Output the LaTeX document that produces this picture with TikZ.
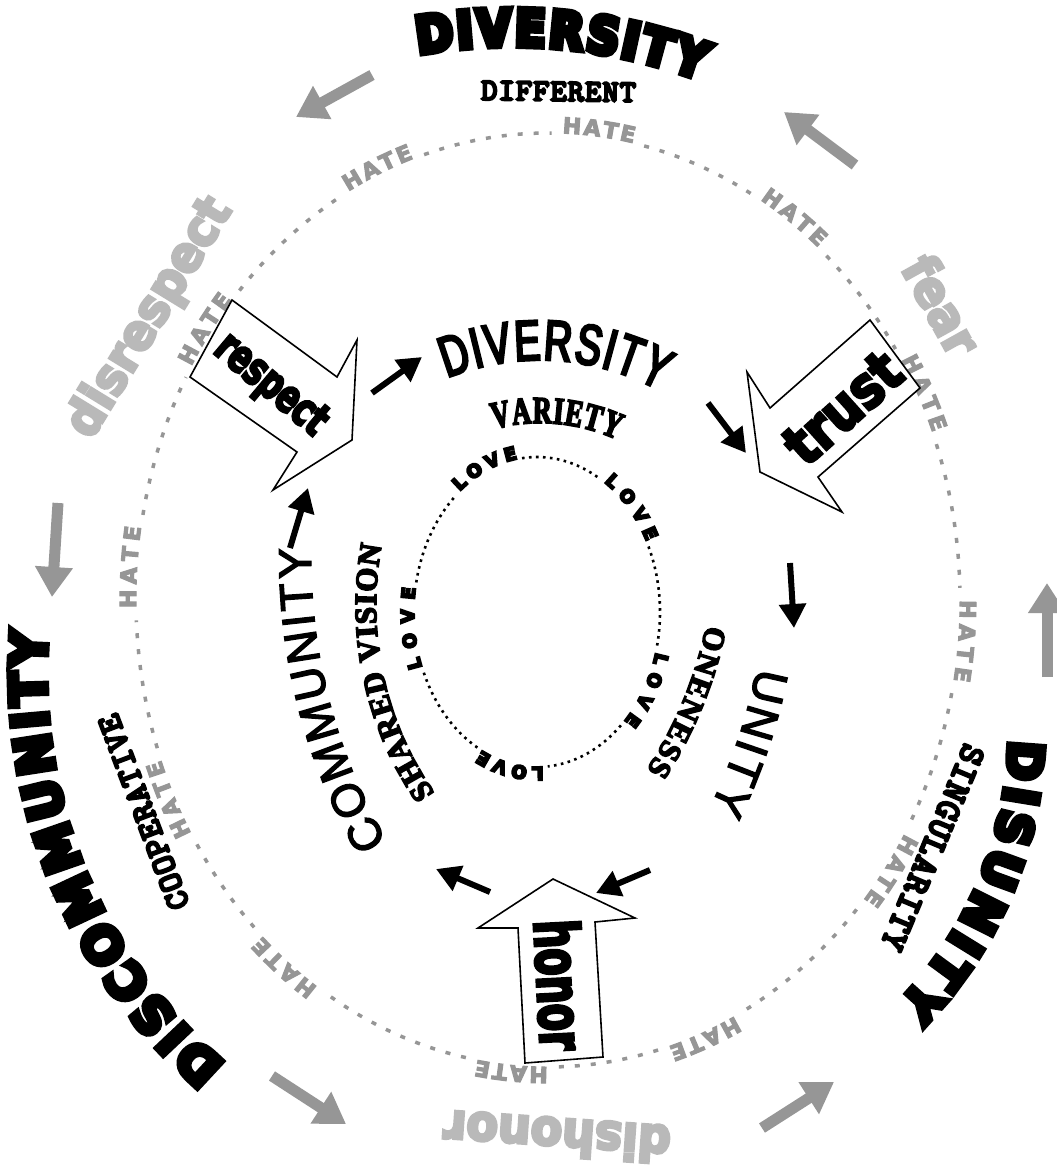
\documentclass[tikz,border=0pt]{standalone}
\usepackage{fontspec}
\usetikzlibrary{decorations.text,calc,arrows.meta}
\definecolor{hategray}{RGB}{150,150,150}
\definecolor{wordgray}{RGB}{185,185,185}
\definecolor{arrowgray}{RGB}{150,150,150}
\font\fntTopDiv="DejaVu Sans/B:extend=0.88;embolden=12" at 51pt
\font\fntDisc="DejaVu Sans/B:embolden=12" at 50pt
\font\fntDisu="DejaVu Sans/B:embolden=12" at 48pt
\font\fntResp="DejaVu Sans/B:extend=0.68;embolden=5" at 46pt
\font\fntTrust="DejaVu Sans/B:extend=0.85;embolden=5" at 58pt
\font\fntHonor="DejaVu Sans/B:extend=0.64;embolden=4" at 62pt
\font\fntLove="DejaVu Sans/B:embolden=11" at 18pt
\font\fntGray="DejaVu Sans/B:extend=0.92;embolden=6" at 50pt
\font\fntHate="DejaVu Sans/B:embolden=5" at 22pt
\font\fntCoop="[lmmonolt10-bold.otf]:embolden=6" at 34pt
\font\fntSing="[lmmonolt10-bold.otf]:embolden=6" at 36pt
\font\fntDiff="[lmmonolt10-bold.otf]:embolden=6" at 31.5pt
\font\fntMidDiv="Liberation Sans:extend=0.68;embolden=4.5" at 57pt
\font\fntVar="Liberation Serif/B:extend=0.68;embolden=4.5" at 38pt
\font\fntComm="Liberation Sans:embolden=3" at 46pt
\font\fntShared="Liberation Serif/B:embolden=5" at 31pt
\font\fntUnity="Liberation Sans:embolden=3" at 46pt
\font\fntOne="Liberation Serif/B:embolden=5" at 31pt
\begin{document}
\begin{tikzpicture}[x=1pt,y=1pt,
  curvetext/.style={decorate,decoration={text along path,text={#1},text align=fit to path}},
  hatedash/.style={draw=hategray,line width=3.5pt,dash pattern=on 5pt off 11pt},
  lovedot/.style={draw=black,line width=2.6pt,dash pattern=on 2.6pt off 4.4pt},
  blockarrow/.style={draw=black,fill=white,line width=1.6pt,line join=miter},
  blackarrow/.style={draw=black,line width=6pt,-{Triangle[length=24pt,width=26pt]}},
  grayarrow/.style={draw=arrowgray,line width=11pt,-{Triangle[length=30pt,width=36pt]}},
  grayword/.style={font=\fntGray,text=wordgray,inner sep=0pt}
]
\useasboundingbox (0,-1171) rectangle (1057,0);
\fill[white] (0,-1171) rectangle (1057,0);

% ---------- outer HATE ring ----------
\coordinate (cH) at (548,-600);
\foreach \t in {83,54,26,-5,-35,-68,-95,-129,-155,-184,-215,-246}{
  \path[curvetext={|\color{hategray}\fntHate|HATE}] ($(cH)+({\t+5}:412 and 467)$) arc[start angle=\t+5,end angle=\t-5,x radius=412,y radius=467];
}
\foreach \a/\b in {83/54,54/26,26/-5,-5/-35,-35/-68,-68/-95,-95/-129,-129/-155,-155/-184,-184/-215,-215/-246,-246/-277}{
  \draw[hatedash] ($(cH)+({\a-6.5}:412 and 467)$) arc[start angle=\a-6.5,end angle=\b+6.5,x radius=412,y radius=467];
}

% ---------- inner LOVE ring ----------
\coordinate (cL) at (537,-612);
\foreach \t in {114,42,-30,-102,-174}{
  \path[curvetext={|\fntLove|LOVE}] ($(cL)+({\t+15}:123 and 155)$) arc[start angle=\t+15,end angle=\t-15,x radius=123,y radius=155];
  \draw[lovedot] ($(cL)+({\t-17}:123 and 155)$) arc[start angle=\t-17,end angle=\t-55,x radius=123,y radius=155];
}

% ---------- gray words ----------
\node[grayword,rotate=58.5] (disrespect) at (150,-318) {disrespect};
\node[grayword,rotate=-61] (fear) at (942,-305) {fear};
\node[grayword,rotate=176] (dishonor) at (557,-1137) {dishonor};

% ---------- outer curved words ----------
\coordinate (cTop) at (512,-585);
\path[curvetext={|\fntTopDiv|DIVERSITY}] ($(cTop)+(100:539)$) arc[start angle=100,end angle=69.5,radius=539];
\path[curvetext={|\fntDiff|DIFFERENT}] (481,-100) -- (636,-102);

\coordinate (cDisc) at (561,-673);
\path[curvetext={|\fntDisc|DISCOMMUNITY}] ($(cDisc)+(229.4:515)$) arc[start angle=229.4,end angle=175.4,radius=515];
\path[curvetext={|\fntCoop|COOPERATIVE}] (190,-905) -- (117,-712);

\coordinate (cDisu) at (621,-731);
\path[curvetext={|\fntDisu|DISUNITY}] ($(cDisu)+(-1.3:388)$) arc[start angle=-1.3,end angle=-44.5,radius=388];
\path[curvetext={|\fntSing|SINGULARITY}] (965,-742) -- (880,-945);

% ---------- inner curved words ----------
\coordinate (cMid) at (540,-610);
\path[curvetext={|\fntMidDiv|DIVERSITY}] ($(cMid)+(111.8:250)$) arc[start angle=111.8,end angle=61.4,radius=250];
\path[curvetext={|\fntVar|VARIETY}] ($(cMid)+(104.3:187)$) arc[start angle=104.3,end angle=65.8,radius=187];

\coordinate (cComm) at (877,-558);
\path[curvetext={|\fntComm|COMMUNITY}] ($(cComm)+(210.1:566)$) arc[start angle=210.1,end angle=179,radius=566];
\coordinate (cShared) at (703,-606);
\path[curvetext={|\fntShared|SHARED VISION}] ($(cShared)+(214.9:327)$) arc[start angle=214.9,end angle=169.3,radius=327];

\coordinate (cUnity) at (209,-562);
\path[curvetext={|\fntUnity|UNITY}] ($(cUnity)+(-10.9:558)$) arc[start angle=-10.9,end angle=-26.2,radius=558];
\coordinate (cOne) at (295,-540);
\path[curvetext={|\fntOne|ONENESS}] ($(cOne)+(-11.7:420)$) arc[start angle=-11.7,end angle=-33.2,radius=420];

% ---------- block arrows ----------
\draw[blockarrow] (232,-300) -- (337,-377) -- (357,-340) -- (352,-440) -- (273,-490) -- (297,-452) -- (190,-377) -- cycle;
\node[font=\fntResp,rotate=-40] (respect) at (270,-386) {respect};
\draw[blockarrow] (870,-320) -- (920,-388) -- (818,-477) -- (842,-512) -- (760,-472) -- (747,-372) -- (770,-408) -- cycle;
\node[font=\fntTrust,rotate=42] (trust) at (843,-408) {trust};
\draw[blockarrow] (553,-879) -- (635,-918) -- (595,-922) -- (603,-1057) -- (525,-1063) -- (518,-928) -- (478,-928) -- cycle;
\node[font=\fntHonor,rotate=-87] (honor) at (560,-985) {honor};

% ---------- small black arrows ----------
\coordinate (a1s) at (372,-393); \coordinate (a1e) at (422,-357);
\coordinate (a2s) at (708,-403); \coordinate (a2e) at (746,-453);
\coordinate (a3s) at (790,-563); \coordinate (a3e) at (794,-628);
\coordinate (a4s) at (650,-870); \coordinate (a4e) at (596,-893);
\coordinate (a5s) at (490,-892); \coordinate (a5e) at (436,-869);
\coordinate (a6s) at (290,-548); \coordinate (a6e) at (308,-488);
\foreach \i in {1,...,6}{\draw[blackarrow] (a\i s) -- (a\i e);}

% ---------- gray arrows ----------
\coordinate (g1s) at (372,-75);   \coordinate (g1e) at (296,-117);
\coordinate (g2s) at (855,-165);  \coordinate (g2e) at (784,-112);
\coordinate (g3s) at (58,-503);   \coordinate (g3e) at (52,-597);
\coordinate (g4s) at (1047,-677); \coordinate (g4e) at (1047,-583);
\coordinate (g5s) at (272,-1076); \coordinate (g5e) at (346,-1124);
\coordinate (g6s) at (762,-1128); \coordinate (g6e) at (834,-1082);
\foreach \i in {1,...,6}{\draw[grayarrow] (g\i s) -- (g\i e);}
\end{tikzpicture}
\end{document}
